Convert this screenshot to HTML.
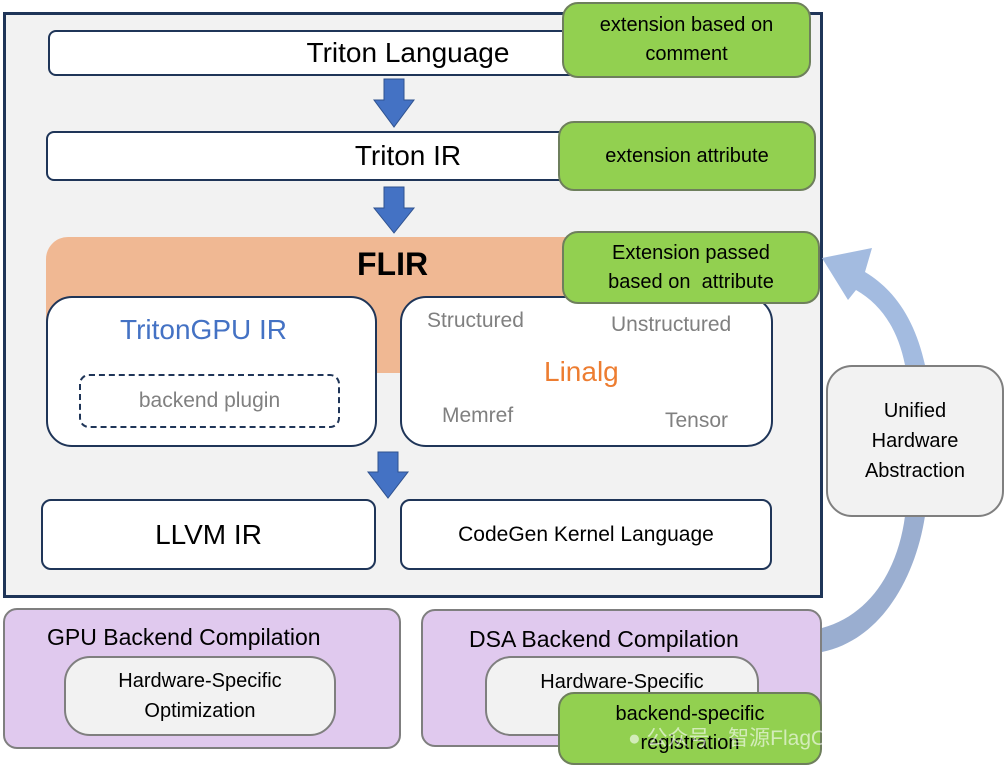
<!DOCTYPE html>
<html><head><meta charset="utf-8"><style>
body{margin:0;width:1005px;height:774px;background:#fff;position:relative;overflow:hidden;font-family:"Liberation Sans","Noto Sans CJK SC",sans-serif;}
.a{position:absolute;box-sizing:border-box;display:flex;align-items:center;justify-content:center;text-align:center;}
.nv{background:#fff;border:2.5px solid #1f3558;}
.gr{background:#92d050;border:2px solid #6e7f5c;border-radius:16px;color:#000;font-size:20px;line-height:29px;}
.pu{background:#e0c9ee;border:2px solid #7f7f7f;border-radius:14px;}
.lg{background:#f2f2f2;border:2px solid #7f7f7f;border-radius:26px;font-size:20px;line-height:30px;}
.t{position:absolute;white-space:nowrap;}
</style></head><body>
<div class="a" style="left:3px;top:12px;width:820px;height:586px;background:#f2f2f2;border:3px solid #1f3558;"></div>
<div class="a nv" style="left:48px;top:30px;width:720px;height:46px;border-radius:8px;font-size:28px;">Triton Language</div>
<div class="a nv" style="left:46px;top:131px;width:724px;height:50px;border-radius:8px;font-size:28px;">Triton IR</div>
<div class="a" style="left:46px;top:237px;width:700px;height:136px;background:#f0b893;border-radius:22px 22px 0 0;"></div>
<div class="t" style="left:357px;top:246px;font-size:32px;font-weight:bold;">FLIR</div>
<div class="a nv" style="left:46px;top:296px;width:331px;height:151px;border-radius:26px;"></div>
<div class="t" style="left:120px;top:314px;font-size:28px;color:#4472c4;">TritonGPU IR</div>
<div class="a" style="left:79px;top:374px;width:261px;height:54px;border:2.5px dashed #1f3558;border-radius:10px;font-size:21px;color:#808080;">backend plugin</div>
<div class="a nv" style="left:400px;top:296px;width:373px;height:151px;border-radius:26px;"></div>
<div class="t" style="left:427px;top:309px;font-size:21px;color:#808080;">Structured</div>
<div class="t" style="left:611px;top:313px;font-size:21px;color:#808080;">Unstructured</div>
<div class="t" style="left:544px;top:356px;font-size:28px;color:#ed7d31;">Linalg</div>
<div class="t" style="left:442px;top:404px;font-size:21px;color:#808080;">Memref</div>
<div class="t" style="left:665px;top:409px;font-size:21px;color:#808080;">Tensor</div>
<div class="a nv" style="left:41px;top:499px;width:335px;height:71px;border-radius:10px;font-size:28px;">LLVM IR</div>
<div class="a nv" style="left:400px;top:499px;width:372px;height:71px;border-radius:10px;font-size:21px;">CodeGen Kernel Language</div>
<div class="a gr" style="left:562px;top:2px;width:249px;height:76px;">extension based on<br>comment</div>
<div class="a gr" style="left:558px;top:121px;width:258px;height:70px;">extension attribute</div>
<div class="a gr" style="left:562px;top:231px;width:258px;height:73px;">Extension passed<br>based on&nbsp; attribute</div>
<svg style="position:absolute;left:0;top:0" width="1005" height="774">
<g fill="#4472c4" stroke="#2f528f" stroke-width="1">
<polygon points="384,79 404,79 404,100 414,100 394,127 374,100 384,100"/>
<polygon points="384,187 404,187 404,208 414,208 394,233 374,208 384,208"/>
<polygon points="378,452 398,452 398,472 408,472 388,498 368,472 378,472"/>
</g>
<path d="M822,652 C880,640 915,580 925,516 L905,516 C898,570 870,615 822,628 Z" fill="#9aaed0"/>
<path d="M925,365 C915,320 895,290 865,272 L872,248 L822,258 L848,300 L856,290 C882,305 898,330 905,365 Z" fill="#a3bbe0"/>
</svg>
<div class="a lg" style="left:826px;top:365px;width:178px;height:152px;">Unified<br>Hardware<br>Abstraction</div>
<div class="a pu" style="left:3px;top:608px;width:398px;height:141px;"></div>
<div class="t" style="left:47px;top:624px;font-size:23px;">GPU Backend Compilation</div>
<div class="a lg" style="left:64px;top:656px;width:272px;height:80px;">Hardware-Specific<br>Optimization</div>
<div class="a pu" style="left:421px;top:609px;width:401px;height:138px;"></div>
<div class="t" style="left:469px;top:626px;font-size:23px;">DSA Backend Compilation</div>
<div class="a lg" style="left:485px;top:656px;width:274px;height:80px;align-items:flex-start;padding-top:9px;">Hardware-Specific<br>Optimization</div>
<div class="a gr" style="left:558px;top:692px;width:264px;height:73px;">backend-specific<br>registration</div>
<div class="t" style="left:628px;top:722px;font-size:21px;color:rgba(255,255,255,0.6);">● 公众号 · 智源FlagOpen</div>
</body></html>
